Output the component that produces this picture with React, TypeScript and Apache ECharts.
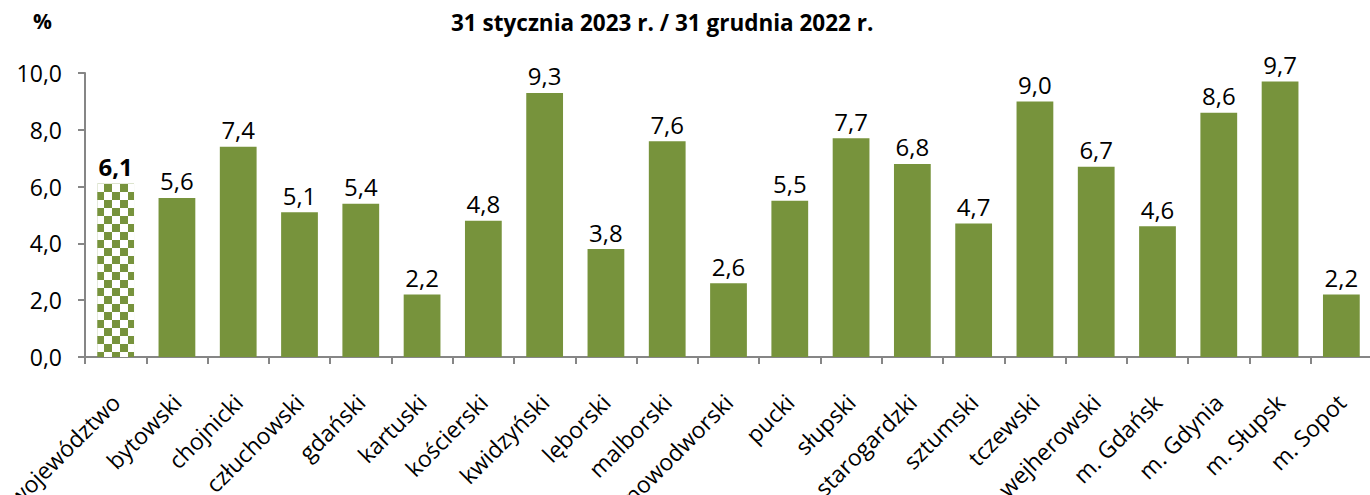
import React, { useEffect, useRef } from "react";
import * as echarts from "echarts";

const categories = [
  "województwo", "bytowski", "chojnicki", "człuchowski", "gdański", "kartuski",
  "kościerski", "kwidzyński", "lęborski", "malborski", "nowodworski", "pucki",
  "słupski", "starogardzki", "sztumski", "tczewski", "wejherowski", "m. Gdańsk",
  "m. Gdynia", "m. Słupsk", "m. Sopot",
];
const values = [6.1, 5.6, 7.4, 5.1, 5.4, 2.2, 4.8, 9.3, 3.8, 7.6, 2.6, 5.5, 7.7, 6.8, 4.7, 9.0, 6.7, 4.6, 8.6, 9.7, 2.2];
const highlightIndex = 0;
const titleText = "31 stycznia 2023 r. / 31 grudnia 2022 r.";
const unitText = "%";

const GREEN = "#77933C";
const FONT = "'Open Sans', sans-serif";
const fmt = (v: number) => v.toFixed(1).replace(".", ",");

export default function App() {
  const ref = useRef<HTMLDivElement>(null);
  useEffect(() => {
    if (!ref.current) return;
    const chart = echarts.init(ref.current, undefined, { renderer: "svg" });
    const data = values.map((v, i) =>
      i === highlightIndex
        ? {
            value: v,
            itemStyle: {
              color: GREEN,
              decal: {
                symbol: "rect",
                symbolSize: 1,
                color: "#ffffff",
                dashArrayX: [[7.5, 7.5], [0, 7.5, 7.5, 0]],
                dashArrayY: [7.5, 0],
                rotation: 0,
              },
            },
            label: { fontWeight: "bold" },
          }
        : { value: v }
    );
    chart.setOption({
      animation: false,
      textStyle: { fontFamily: FONT },
      title: {
        text: titleText,
        left: 446,
        top: 6,
        textStyle: { fontFamily: FONT, fontSize: 22.5, fontWeight: "bold", color: "#000" },
      },
      graphic: [
        {
          type: "text",
          left: 33,
          top: 10,
          style: { text: unitText, fontFamily: FONT, fontSize: 21, fontWeight: "bold", fill: "#000" },
        },
      ],
      grid: {
        left: 85,
        right: -2,
        top: 73,
        bottom: 138,
        containLabel: false,
        outerBoundsMode: "none",
      },
      xAxis: {
        type: "category",
        data: categories,
        axisLine: { lineStyle: { color: "#868686", width: 2 } },
        axisTick: { show: true, length: 7, lineStyle: { color: "#868686", width: 2 } },
        axisLabel: {
          rotate: 45,
          interval: 0,
          margin: 41,
          padding: [12, 0, 0, 0],
          color: "#000",
          fontFamily: FONT,
          fontSize: 23,
        },
      },
      yAxis: {
        type: "value",
        min: 0,
        max: 10,
        interval: 2,
        splitLine: { show: false },
        axisLine: { show: true, lineStyle: { color: "#868686", width: 2 } },
        axisTick: { show: true, length: 7, lineStyle: { color: "#868686", width: 2 } },
        axisLabel: {
          margin: 23,
          color: "#000",
          fontFamily: FONT,
          fontSize: 23,
          formatter: (v: number) => fmt(v),
        },
      },
      series: [
        {
          type: "bar",
          data,
          barCategoryGap: "40%",
          itemStyle: { color: GREEN },
          label: {
            show: true,
            position: "top",
            distance: 5,
            color: "#000",
            fontFamily: FONT,
            fontSize: 24,
            formatter: (p: any) => fmt(p.value),
          },
        },
      ],
    });
    return () => chart.dispose();
  }, []);
  return (
    <div
      ref={ref}
      style={{ position: "fixed", left: 0, top: 0, width: 1370, height: 495, background: "#fff" }}
    />
  );
}
